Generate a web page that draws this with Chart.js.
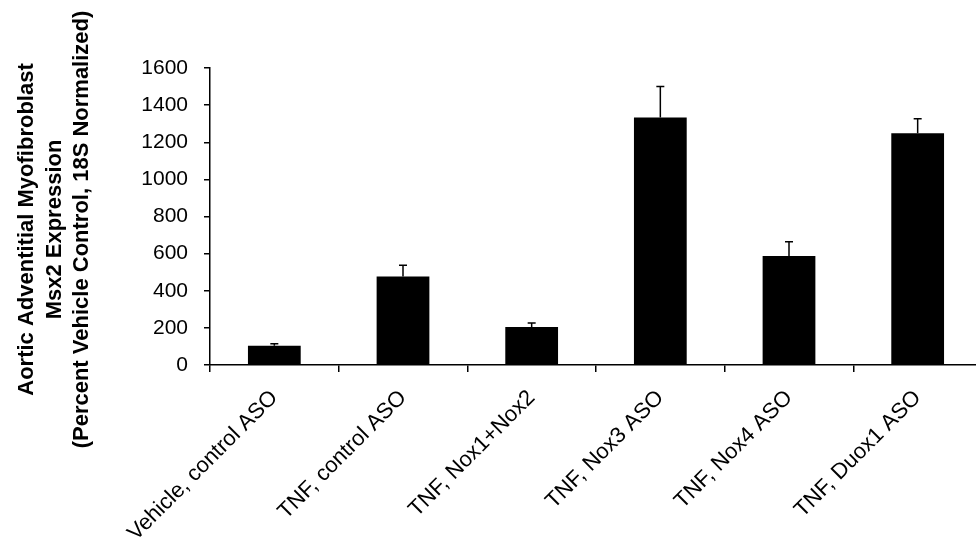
<!DOCTYPE html>
<html>
<head>
<meta charset="utf-8">
<script src="https://cdn.jsdelivr.net/npm/chart.js@4.4.1/dist/chart.umd.min.js"></script>
<style>
  html, body { margin: 0; padding: 0; background: #fff; overflow: hidden; }
  #wrap { width: 976px; height: 544px; overflow: hidden; }
</style>
</head>
<body>
<div id="wrap"><canvas id="chart" width="990" height="544"></canvas></div>
<script>
// Datos
const categories = [
  'Vehicle, control ASO',
  'TNF, control ASO',
  'TNF, Nox1+Nox2',
  'TNF, Nox3 ASO',
  'TNF, Nox4 ASO',
  'TNF, Duox1 ASO'
];
const expression = [104, 477, 205, 1334, 587, 1248];
const errors = [10, 60, 21, 167, 77, 79];
const yTitleLines = [
  'Aortic Adventitial Myofibroblast',
  'Msx2 Expression',
  '(Percent Vehicle Control, 18S Normalized)'
];
const yMax = 1600;
const yStep = 200;

const fontFamily = "'Liberation Sans', Arial, sans-serif";

// Barras de error (solo hacia arriba)
const errorBarPlugin = {
  id: 'errorBars',
  afterDatasetsDraw(chart) {
    const meta = chart.getDatasetMeta(0);
    const yScale = chart.scales.y;
    const ctx = chart.ctx;
    ctx.save();
    ctx.strokeStyle = '#000';
    ctx.lineWidth = 1.5;
    meta.data.forEach((bar, i) => {
      const top = yScale.getPixelForValue(expression[i] + errors[i]);
      ctx.beginPath();
      ctx.moveTo(bar.x, bar.y);
      ctx.lineTo(bar.x, top);
      ctx.moveTo(bar.x - 4, top);
      ctx.lineTo(bar.x + 4, top);
      ctx.stroke();
    });
    ctx.restore();
  }
};

// Título del eje Y en tres líneas
const yTitlePlugin = {
  id: 'yTitle',
  afterDraw(chart) {
    const ctx = chart.ctx;
    const area = chart.chartArea;
    const cy = (area.top + area.bottom) / 2 + 13;
    const baselines = [33, 60.5, 88];
    ctx.save();
    ctx.fillStyle = '#000';
    ctx.font = 'bold 22px ' + fontFamily;
    ctx.textAlign = 'center';
    ctx.textBaseline = 'alphabetic';
    yTitleLines.forEach((line, i) => {
      ctx.save();
      ctx.translate(baselines[i], cy);
      ctx.rotate(-Math.PI / 2);
      ctx.fillText(line, 0, 0);
      ctx.restore();
    });
    ctx.restore();
  }
};

new Chart(document.getElementById('chart'), {
  type: 'bar',
  data: {
    labels: categories,
    datasets: [{
      data: expression,
      backgroundColor: '#000',
      borderColor: '#000',
      borderWidth: 0,
      barPercentage: 0.41,
      categoryPercentage: 1
    }]
  },
  options: {
    responsive: false,
    animation: false,
    layout: {
      padding: { top: 68, right: 8, left: 0, bottom: 0 }
    },
    plugins: {
      legend: { display: false },
      tooltip: { enabled: false }
    },
    scales: {
      x: {
        afterFit: (scale) => { scale.height = 179; },
        grid: {
          offset: true,
          drawOnChartArea: false,
          drawTicks: true,
          tickLength: 7,
          color: '#000',
          lineWidth: 1.5
        },
        border: { display: true, color: '#000', width: 1.5 },
        ticks: {
          color: '#000',
          font: { family: fontFamily, size: 22 },
          maxRotation: 45,
          minRotation: 45,
          padding: 13,
          autoSkip: false
        }
      },
      y: {
        min: 0,
        max: yMax,
        afterFit: (scale) => { scale.width = 210; },
        grid: {
          drawOnChartArea: false,
          drawTicks: true,
          tickLength: 6,
          color: '#000',
          lineWidth: 1.5
        },
        border: { display: true, color: '#000', width: 1.5 },
        ticks: {
          stepSize: yStep,
          color: '#000',
          font: { family: fontFamily, size: 21 },
          padding: 16,
          callback: (value) => String(value)
        }
      }
    }
  },
  plugins: [errorBarPlugin, yTitlePlugin]
});
</script>
</body>
</html>
